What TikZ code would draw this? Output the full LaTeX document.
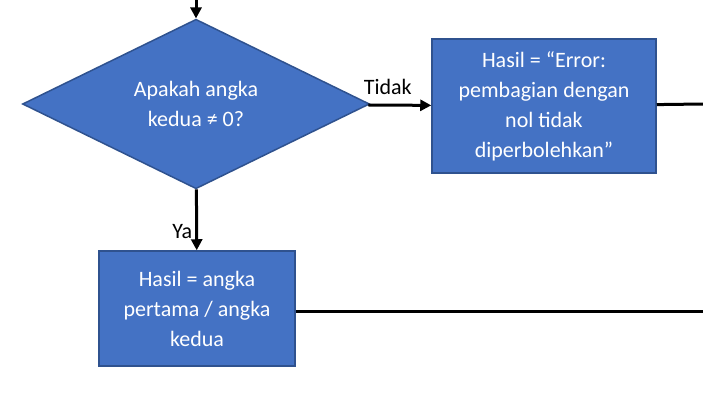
\documentclass[tikz,border=0pt]{standalone}
\usepackage{fontspec}
\setmainfont{Carlito}
\usepackage{tikz}
\usetikzlibrary{shapes,arrows.meta}
\definecolor{boxblue}{HTML}{4472C4}
\definecolor{boxline}{HTML}{2F528F}
\tikzstyle{block} = [draw=boxline, line width=1.5pt, rectangle, fill=boxblue, text=white, align=center, font=\fontsize{22}{30}\selectfont]
\tikzstyle{decision} = [draw=boxline, line width=1.5pt, diamond, fill=boxblue, text=white, align=center, inner sep=0pt, font=\fontsize{22}{30}\selectfont]
\tikzstyle{label} = [font=\fontsize{22}{26}\selectfont, text=black]
\tikzstyle{node} = [coordinate]

\begin{document}
\begin{tikzpicture}[x=1pt, y=-1pt, auto, >={Triangle[length=11pt,width=11pt]}, line width=3pt]
    \useasboundingbox (0,0) rectangle (703,400);
    \node [decision, minimum width=347pt, minimum height=165pt] (check) at (196,104) {Apakah angka\\kedua ≠ 0?};
    \node [node] (start) at (196,0) {};
    \draw [->] (start) -- (check);

    \node [block, right of=check, node distance=348pt, yshift=-2pt, minimum width=224pt, minimum height=134pt] (error) {Hasil = “Error:\\pembagian dengan\\nol tidak\\diperbolehkan”};
    \draw [->] (check) -- node[label, pos=0.31, above, inner sep=3pt, yshift=6pt] {Tidak} (error);
    \node [node] (out1) at (703,104) {};
    \draw (error) -- (out1);

    \node [block, below of=check, node distance=204.5pt, xshift=1pt, minimum width=196pt, minimum height=115pt] (result) {Hasil = angka\\pertama / angka\\kedua};
    \draw [->] (check) -- node[label, pos=0.69, left, inner sep=3pt] {Ya} (result);
    \node [node] (out2) at (703,311) {};
    \draw (result.east |- out2) -- (out2);
\end{tikzpicture}
\end{document}
